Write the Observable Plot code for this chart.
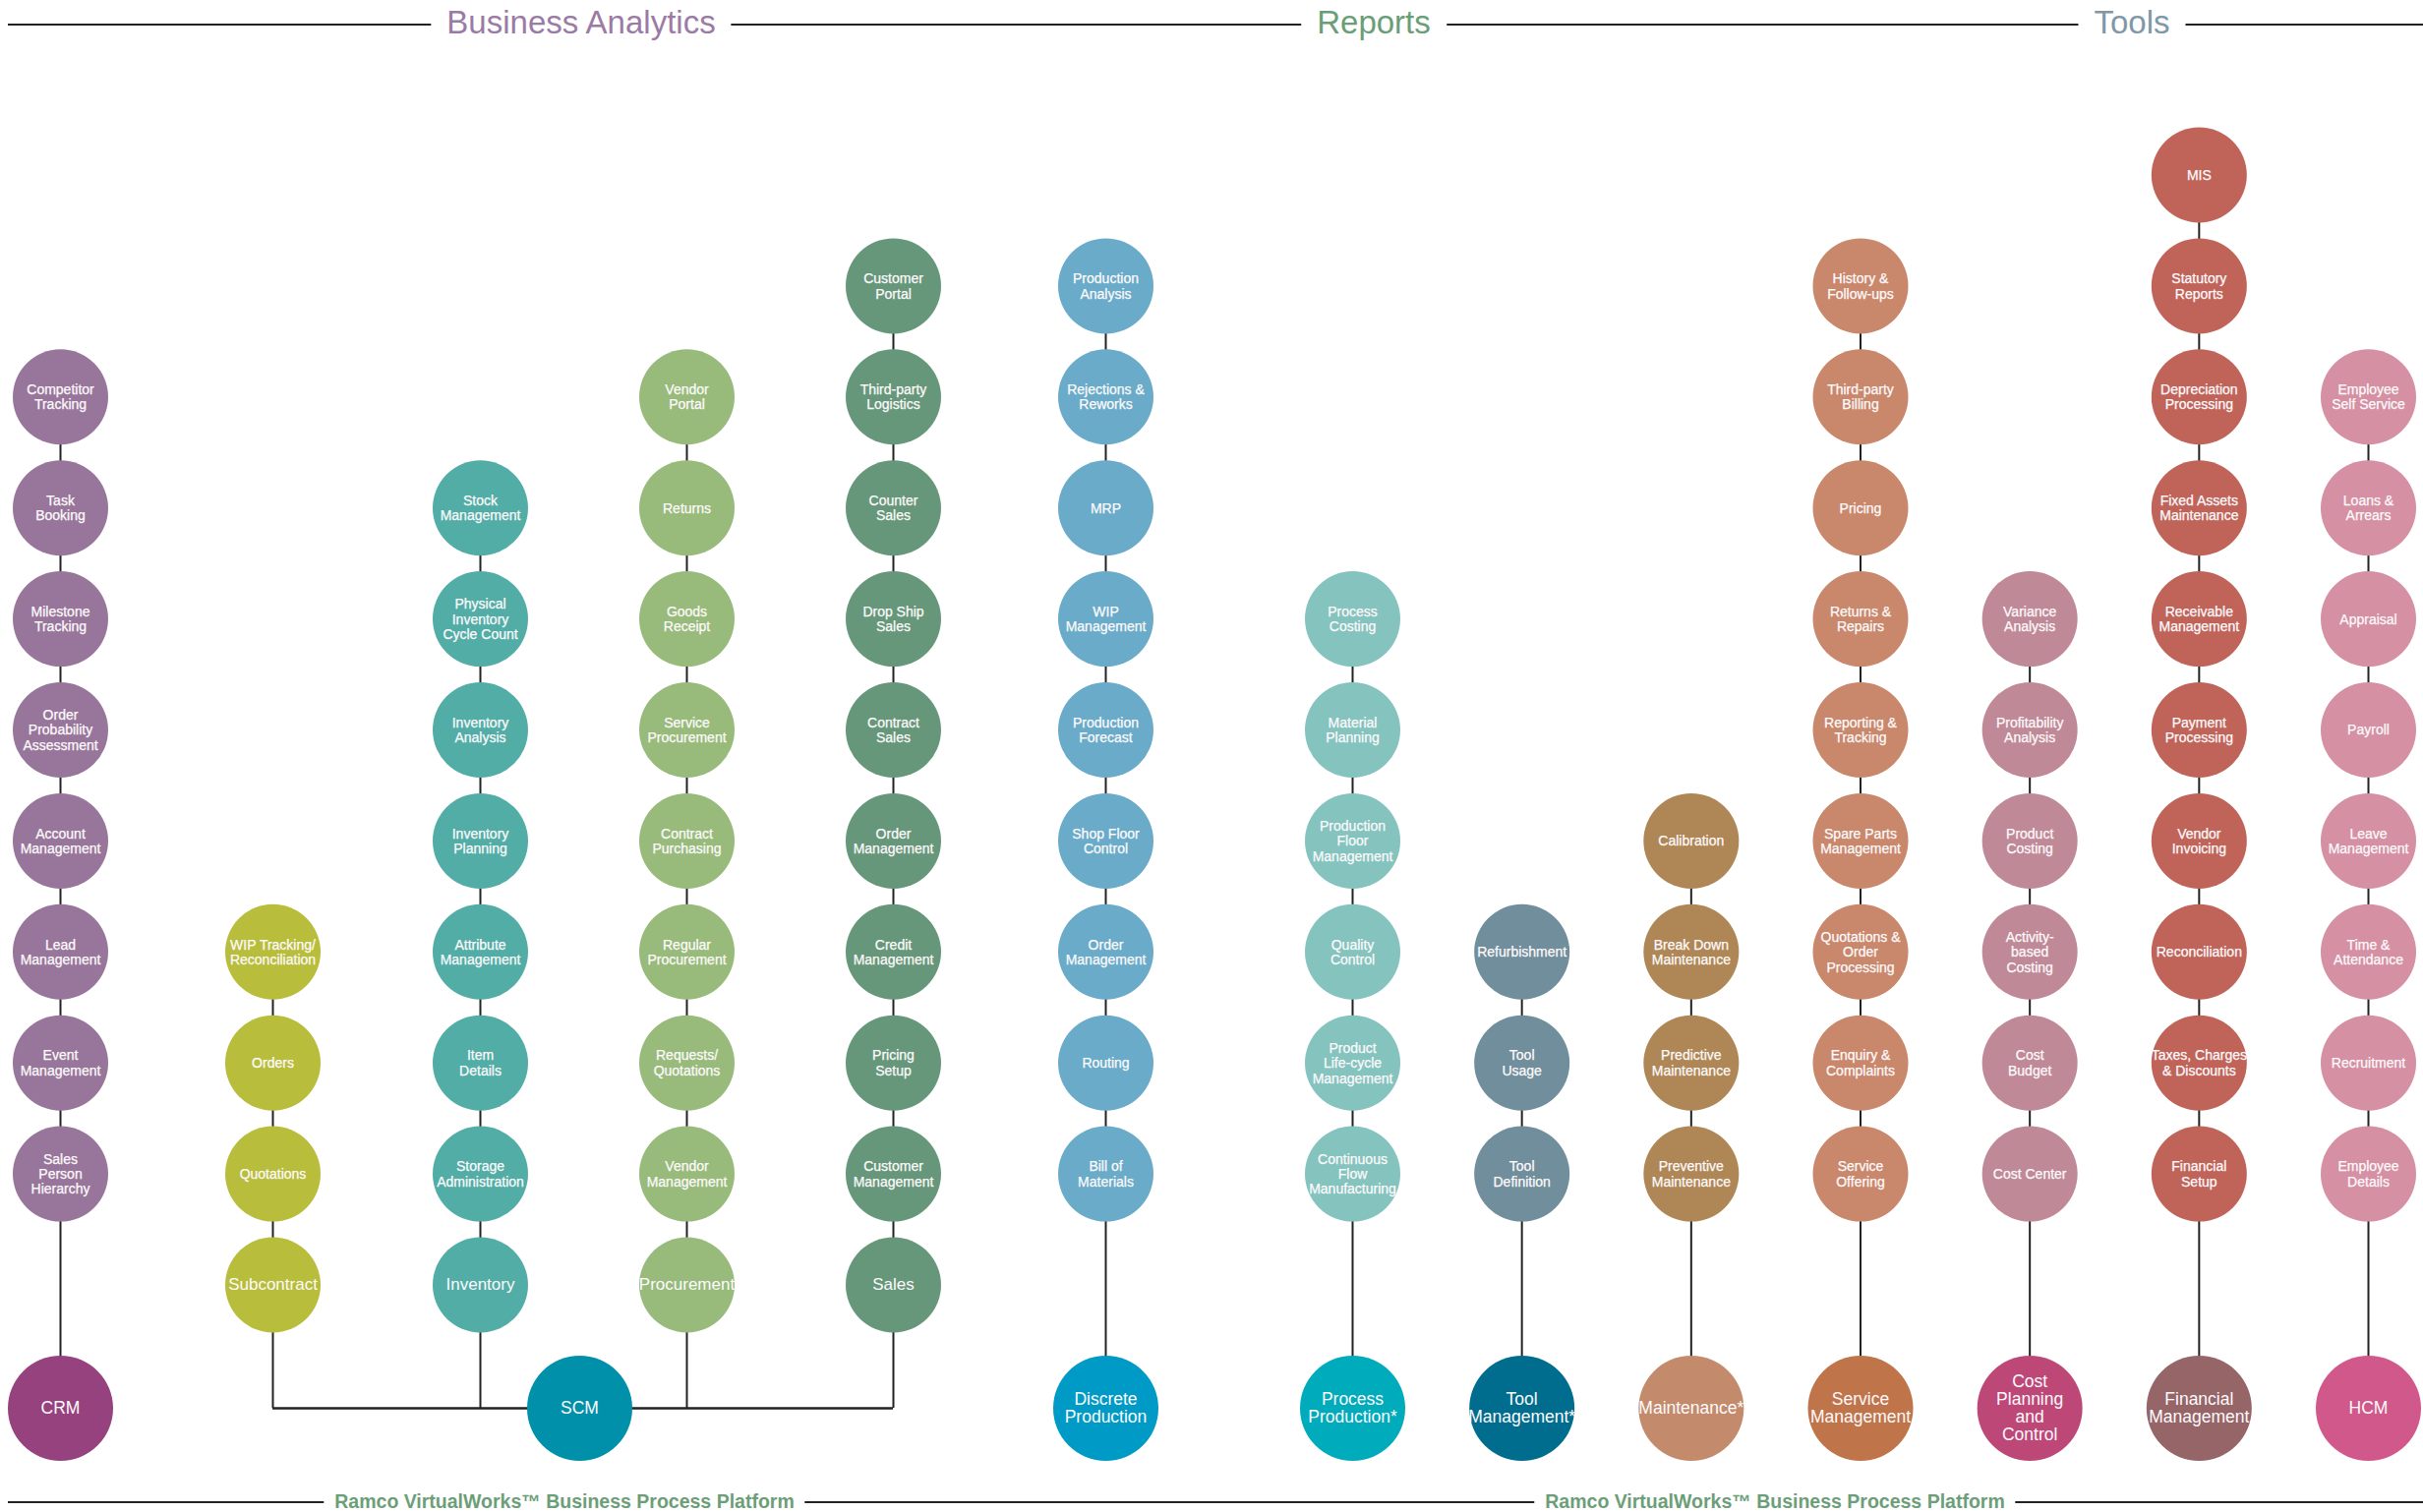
<!DOCTYPE html>
<html><head><meta charset="utf-8">
<script src="https://cdn.jsdelivr.net/npm/d3@7"></script>
<script src="https://cdn.jsdelivr.net/npm/@observablehq/plot@0.6"></script>
<style>
html,body{margin:0;padding:0;background:#fff;}
body{width:2464px;height:1538px;overflow:hidden;font-family:"Liberation Sans",Arial,sans-serif;}
.band{position:relative;width:2464px;}
.band .rule{position:absolute;left:8px;right:0;height:2px;background:#222;}
.band span{position:absolute;transform:translate(-50%,-50%);background:#fff;white-space:nowrap;line-height:1;}
#header{height:50px}
#header .rule{top:24px}
#header span{top:22px;font-size:33px;padding:0 16px;}
#footer{height:38px}
#footer .rule{top:27px}
#footer span{top:28px;font-size:19.5px;font-weight:bold;color:#6c9e78;padding:0 11px;}
#chart svg{display:block}
</style></head>
<body>
<div id="header" class="band"><div class="rule"></div></div>
<div id="chart"></div>
<div id="footer" class="band"><div class="rule"></div></div>
<script>
// ---------- data ----------
const sectionTitles = ["Business Analytics", "Reports", "Tools"];
const footerTitles = ["Ramco VirtualWorks\u2122 Business Process Platform", "Ramco VirtualWorks\u2122 Business Process Platform"];

const columnNames = ["CRM", "Subcontract", "Inventory", "Procurement", "Sales", "Discrete Production",
  "Process Production", "Tool Management", "Maintenance", "Service Management", "Cost Planning",
  "Financial Management", "HCM"];
const scmBranches = ["Subcontract", "Inventory", "Procurement", "Sales"];

const crmItems = ["Competitor\nTracking", "Task\nBooking", "Milestone\nTracking", "Order\nProbability\nAssessment",
  "Account\nManagement", "Lead\nManagement", "Event\nManagement", "Sales\nPerson\nHierarchy"];
const subcontractItems = ["WIP Tracking/\nReconciliation", "Orders", "Quotations", "Subcontract"];
const inventoryItems = ["Stock\nManagement", "Physical\nInventory\nCycle Count", "Inventory\nAnalysis",
  "Inventory\nPlanning", "Attribute\nManagement", "Item\nDetails", "Storage\nAdministration", "Inventory"];
const procurementItems = ["Vendor\nPortal", "Returns", "Goods\nReceipt", "Service\nProcurement",
  "Contract\nPurchasing", "Regular\nProcurement", "Requests/\nQuotations", "Vendor\nManagement", "Procurement"];
const salesItems = ["Customer\nPortal", "Third-party\nLogistics", "Counter\nSales", "Drop Ship\nSales",
  "Contract\nSales", "Order\nManagement", "Credit\nManagement", "Pricing\nSetup", "Customer\nManagement", "Sales"];
const discreteItems = ["Production\nAnalysis", "Rejections &\nReworks", "MRP", "WIP\nManagement",
  "Production\nForecast", "Shop Floor\nControl", "Order\nManagement", "Routing", "Bill of\nMaterials"];
const processItems = ["Process\nCosting", "Material\nPlanning", "Production\nFloor\nManagement",
  "Quality\nControl", "Product\nLife-cycle\nManagement", "Continuous\nFlow\nManufacturing"];
const toolItems = ["Refurbishment", "Tool\nUsage", "Tool\nDefinition"];
const maintenanceItems = ["Calibration", "Break Down\nMaintenance", "Predictive\nMaintenance", "Preventive\nMaintenance"];
const serviceItems = ["History &\nFollow-ups", "Third-party\nBilling", "Pricing", "Returns &\nRepairs",
  "Reporting &\nTracking", "Spare Parts\nManagement", "Quotations &\nOrder\nProcessing",
  "Enquiry &\nComplaints", "Service\nOffering"];
const costItems = ["Variance\nAnalysis", "Profitability\nAnalysis", "Product\nCosting",
  "Activity-\nbased\nCosting", "Cost\nBudget", "Cost Center"];
const financialItems = ["MIS", "Statutory\nReports", "Depreciation\nProcessing", "Fixed Assets\nMaintenance",
  "Receivable\nManagement", "Payment\nProcessing", "Vendor\nInvoicing", "Reconciliation",
  "Taxes, Charges\n& Discounts", "Financial\nSetup"];
const hcmItems = ["Employee\nSelf Service", "Loans &\nArrears", "Appraisal", "Payroll", "Leave\nManagement",
  "Time &\nAttendance", "Recruitment", "Employee\nDetails"];
const columnItems = [crmItems, subcontractItems, inventoryItems, procurementItems, salesItems, discreteItems,
  processItems, toolItems, maintenanceItems, serviceItems, costItems, financialItems, hcmItems];

const rootNames = ["CRM", "SCM", "Discrete Production", "Process Production", "Tool Management", "Maintenance",
  "Service Management", "Cost Planning", "Financial Management", "HCM"];
const rootLabels = ["CRM", "SCM", "Discrete\nProduction", "Process\nProduction*", "Tool\nManagement*",
  "Maintenance*", "Service\nManagement", "Cost\nPlanning\nand\nControl", "Financial\nManagement", "HCM"];
// ordinal slot of each root module among the columns (SCM sits between Inventory and Procurement)
const rootSlots = [0, 2.5, 5, 6, 7, 8, 9, 10, 11, 12];

// ---------- palette ----------
const itemPalette = ["#98769b", "#b9bd3c", "#52ada7", "#98bb7c", "#66977a", "#6aabc9",
  "#85c3bf", "#718e9c", "#af8756", "#c9876c", "#c08997", "#c0645a", "#d590a3"];
const rootPalette = ["#96427f", "#0090aa", "#009ac6", "#00abbb", "#006d8f", "#c38b6c",
  "#c0744a", "#bd4878", "#966568", "#d0588a"];
const sectionColors = ["#9b7ba5", "#6a9e77", "#7f98a8"];

// ---------- build tables ----------
const rootRow = 11;
const items = [];
columnNames.forEach((c, i) => {
  const list = columnItems[i];
  const isBranch = scmBranches.includes(c);
  const last = isBranch ? 10 : 9;
  list.forEach((label, k) => items.push({
    key: c, slot: i, row: last - (list.length - 1) + k, label,
    branch: isBranch && k === list.length - 1
  }));
});
const roots = rootNames.map((n, i) => ({key: "root:" + n, slot: rootSlots[i], row: rootRow, label: rootLabels[i]}));
const stems = columnNames.map((c, i) => ({slot: i, top: d3.min(items.filter(d => d.key === c), d => d.row), bottom: rootRow}));
const bus = [{y: rootRow,
  x1: d3.min(scmBranches, b => columnNames.indexOf(b)),
  x2: d3.max(scmBranches, b => columnNames.indexOf(b))}];

const chart = Plot.plot({
  width: 2464, height: 1450, margin: 0,
  x: {type: "linear", domain: [0, 1, 2, 2.5, 3, 4, 5, 6, 12], range: [61, 277, 488, 589, 698, 908, 1124, 1375, 2408], axis: null},
  y: {type: "linear", domain: [0, 10, 11], range: [127.5, 1256.5, 1382], axis: null},
  color: {type: "ordinal", domain: columnNames.concat(rootNames.map(n => "root:" + n)), range: itemPalette.concat(rootPalette)},
  style: {fontFamily: "'Liberation Sans', Arial, sans-serif", background: "#fff", overflow: "visible"},
  marks: [
    Plot.ruleX(stems, {x: "slot", y1: "top", y2: "bottom", stroke: "#222", strokeWidth: 2}),
    Plot.ruleY(bus, {y: "y", x1: "x1", x2: "x2", stroke: "#222", strokeWidth: 2.5}),
    Plot.dot(items, {x: "slot", y: "row", r: 48.5, fill: "key"}),
    Plot.dot(roots, {x: "slot", y: "row", r: 53.5, fill: "key"}),
    Plot.text(items.filter(d => !d.branch), {x: "slot", y: "row", text: "label", fill: "#fdfafb", stroke: "#fdfafb", strokeWidth: 0.25, fontSize: 14, lineHeight: 1.1}),
    Plot.text(items.filter(d => d.branch), {x: "slot", y: "row", text: "label", fill: "#fdfafb", fontSize: 17}),
    Plot.text(roots, {x: "slot", y: "row", text: "label", fill: "#fdfafb", fontSize: 17.5, lineHeight: 1.03})
  ]
});
document.getElementById("chart").appendChild(chart);

// ---------- header / footer ----------
const headerCenters = [591, 1397, 2168];
const header = document.getElementById("header");
sectionTitles.forEach((t, i) => {
  const s = document.createElement("span");
  s.textContent = t; s.style.left = headerCenters[i] + "px"; s.style.color = sectionColors[i];
  header.appendChild(s);
});
const footerCenters = [574, 1805];
const footer = document.getElementById("footer");
footerTitles.forEach((t, i) => {
  const s = document.createElement("span");
  s.textContent = t; s.style.left = footerCenters[i] + "px";
  footer.appendChild(s);
});
</script>
</body></html>
